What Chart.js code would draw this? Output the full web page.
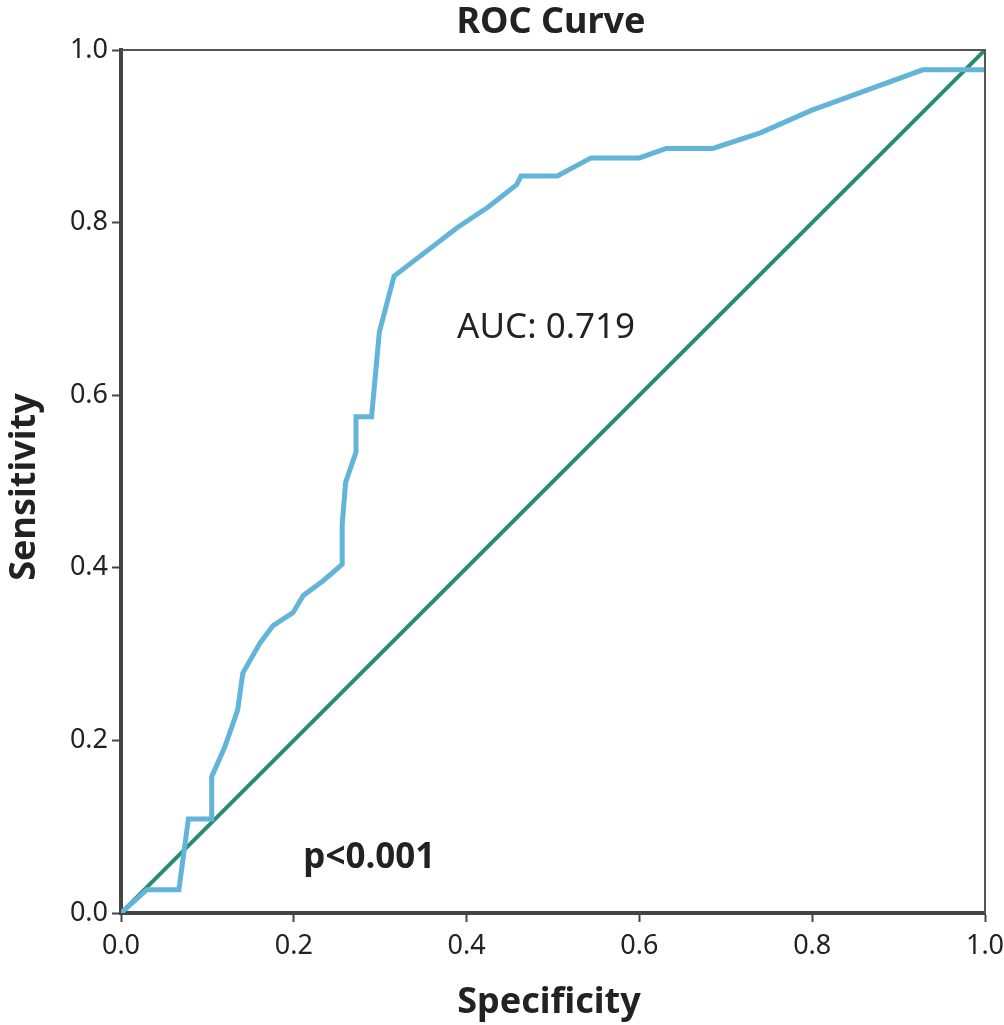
<!DOCTYPE html>
<html lang="en">
<head>
    <meta charset="UTF-8">
    <title>ROC Curve</title>
    <style>
        body { margin: 0; background: #fff; }
        #wrap { width: 1004px; height: 1025px; }
    </style>
</head>
<body>
<div id="wrap"><canvas id="rocChart" width="1004" height="1025"></canvas></div>

<script src="https://cdn.jsdelivr.net/npm/chart.js"></script>
<script>
// ROC curve points
const specificity = [0, 0.030, 0.067, 0.078, 0.105, 0.105, 0.120, 0.135, 0.141, 0.161, 0.176, 0.199, 0.211, 0.234, 0.256, 0.256, 0.260, 0.272, 0.272, 0.290, 0.299, 0.316, 0.389, 0.425, 0.458, 0.463, 0.505, 0.544, 0.600, 0.631, 0.685, 0.740, 0.799, 0.928, 1.0];
const sensitivity = [0, 0.027, 0.027, 0.109, 0.109, 0.158, 0.192, 0.235, 0.278, 0.313, 0.333, 0.348, 0.368, 0.385, 0.404, 0.450, 0.499, 0.534, 0.575, 0.575, 0.673, 0.738, 0.794, 0.818, 0.844, 0.854, 0.854, 0.875, 0.875, 0.886, 0.886, 0.904, 0.930, 0.977, 0.977];
const refX = [0, 1];
const refY = [0, 1];
const tickValues = [0, 0.2, 0.4, 0.6, 0.8, 1.0];

const FONT = '"Noto Sans", "DejaVu Sans", sans-serif';
const TEXT = '#222';
const AXIS = '#444';

const rocPoints = specificity.map((x, i) => ({ x: x, y: sensitivity[i] }));
const refPoints = refX.map((x, i) => ({ x: x, y: refY[i] }));

// titles, annotations and the thin top/right frame
const decorations = {
    id: 'decorations',
    afterDraw(chart) {
        const ctx = chart.ctx;
        const area = chart.chartArea;
        const xs = chart.scales.x, ys = chart.scales.y;
        ctx.save();

        // frame top + right
        ctx.strokeStyle = '#555';
        ctx.lineWidth = 2;
        ctx.beginPath();
        ctx.moveTo(area.left, area.top);
        ctx.lineTo(area.right, area.top);
        ctx.lineTo(area.right, area.bottom);
        ctx.stroke();

        ctx.fillStyle = TEXT;
        ctx.textAlign = 'center';
        ctx.textBaseline = 'alphabetic';

        // title
        ctx.font = 'bold 36px ' + FONT;
        ctx.fillText('ROC Curve', 551, 33);

        // axis titles
        ctx.fillText('Specificity', 549, 1013);
        ctx.save();
        ctx.translate(35, 487);
        ctx.rotate(-Math.PI / 2);
        ctx.fillText('Sensitivity', 0, 0);
        ctx.restore();

        // annotations
        ctx.textAlign = 'left';
        ctx.font = '35px ' + FONT;
        ctx.fillText('AUC: 0.719', xs.getPixelForValue(0.389), ys.getPixelForValue(0.666));
        ctx.font = 'bold 35px ' + FONT;
        ctx.fillText('p<0.001', xs.getPixelForValue(0.211), ys.getPixelForValue(0.052));

        ctx.restore();
    }
};

const axisCommon = {
    type: 'linear',
    min: 0,
    max: 1,
    afterBuildTicks: (scale) => { scale.ticks = tickValues.map(v => ({ value: v })); },
    ticks: {
        color: TEXT,
        font: { family: FONT, size: 27 },
        callback: (v) => Number(v).toFixed(1)
    },
    grid: {
        drawOnChartArea: false,
        drawTicks: true,
        tickLength: 9,
        tickColor: AXIS,
        tickWidth: 2
    },
    border: { color: AXIS, width: 4 }
};

new Chart(document.getElementById('rocChart'), {
    type: 'scatter',
    data: {
        datasets: [
            {
                label: 'ROC',
                data: rocPoints,
                showLine: true,
                borderColor: '#62b4d8',
                borderWidth: 5,
                pointRadius: 0,
                tension: 0,
                order: 0
            },
            {
                label: 'Reference',
                data: refPoints,
                showLine: true,
                borderColor: '#2a8a74',
                borderWidth: 4,
                pointRadius: 0,
                order: 1
            }
        ]
    },
    options: {
        responsive: false,
        animation: false,
        layout: { padding: { left: 0, right: 19, top: 50, bottom: 0 } },
        plugins: {
            legend: { display: false },
            tooltip: { enabled: false },
            title: { display: false }
        },
        scales: {
            x: Object.assign({}, axisCommon, {
                position: 'bottom',
                ticks: Object.assign({}, axisCommon.ticks, { padding: 8, maxRotation: 0 }),
                afterFit: (scale) => {
                    scale.height = 112;
                    scale.paddingLeft = 0;
                    scale.paddingRight = 0;
                }
            }),
            y: Object.assign({}, axisCommon, {
                position: 'left',
                ticks: Object.assign({}, axisCommon.ticks, { padding: 4 }),
                afterFit: (scale) => {
                    scale.width = 121;
                    scale.paddingTop = 0;
                    scale.paddingBottom = 0;
                }
            })
        }
    },
    plugins: [decorations]
});
</script>
</body>
</html>
